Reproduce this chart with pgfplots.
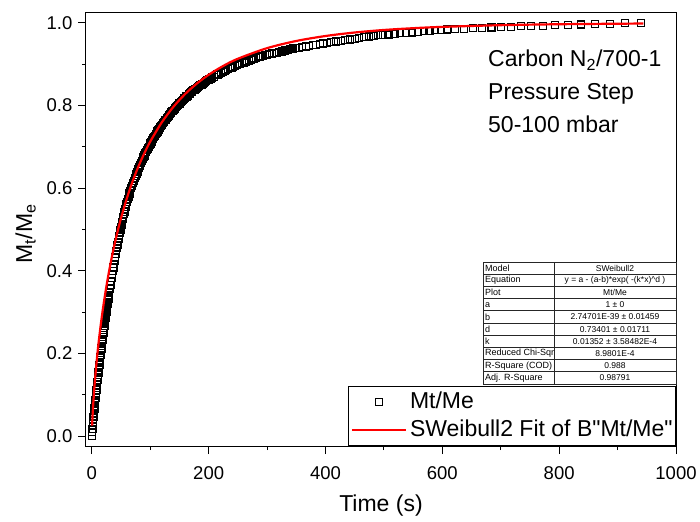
\documentclass[border=0pt]{standalone}
\usepackage{fontspec}
\setmainfont{Liberation Sans}[Ligatures=TeXOff]
\usepackage{pgfplots}
\usepackage{pgfplotstable}
\pgfplotsset{compat=1.18}

\pgfplotstableread{
t D
0 0
0.5 0.009
1 0.017
1.5 0.025
2 0.032
2.5 0.039
3 0.046
3.5 0.053
4 0.060
4.5 0.067
5 0.073
5.5 0.080
6 0.086
6.5 0.092
7 0.099
7.5 0.105
8 0.111
8.5 0.117
9 0.124
9.5 0.130
10 0.136
10.5 0.142
11 0.148
11.5 0.154
12 0.160
12.5 0.166
13 0.172
13.5 0.178
14 0.184
14.5 0.190
15 0.196
15.5 0.201
16 0.207
16.5 0.212
17 0.218
17.5 0.223
18 0.229
18.5 0.234
19 0.240
19.5 0.245
20 0.250
20.5 0.256
21 0.261
21.5 0.266
22 0.271
22.5 0.276
23 0.281
23.5 0.286
24 0.291
24.5 0.296
25 0.301
25.5 0.305
26 0.310
26.5 0.315
27 0.320
27.5 0.324
28 0.329
28.5 0.333
29 0.338
29.5 0.342
30 0.347
31 0.356
32 0.365
33 0.374
34 0.382
35 0.391
36 0.399
37 0.408
38 0.416
39 0.424
40 0.432
41 0.440
42 0.447
43 0.455
44 0.463
45 0.470
46 0.477
47 0.484
48 0.491
49 0.498
50 0.505
51 0.512
52 0.518
53 0.525
54 0.531
55 0.537
56 0.543
57 0.549
58 0.555
59 0.561
60 0.567
61.5 0.574
63 0.580
64.5 0.587
66 0.593
67.5 0.600
69 0.606
70.5 0.612
72 0.618
73.5 0.624
75 0.629
76.5 0.635
78 0.640
79.5 0.645
81 0.650
82.5 0.655
84 0.660
85.5 0.665
87 0.670
88.5 0.675
90 0.679
91.5 0.684
93 0.688
94.5 0.692
96 0.696
97.5 0.700
99 0.704
100.5 0.708
102 0.712
103.5 0.716
105 0.720
106.5 0.724
108 0.727
109.5 0.731
111 0.734
112.5 0.737
114 0.740
115.5 0.744
117 0.747
118.5 0.750
120 0.753
122 0.757
124 0.761
126 0.765
128 0.769
130 0.773
132 0.776
134 0.780
136 0.783
138 0.787
140 0.790
142 0.793
144 0.796
146 0.799
148 0.802
150 0.805
152 0.808
154 0.811
156 0.814
158 0.817
160 0.819
162 0.822
164 0.824
166 0.827
168 0.829
170 0.832
172 0.834
174 0.837
176 0.839
178 0.841
180 0.843
182 0.845
184 0.847
186 0.849
188 0.851
190 0.853
192 0.855
194 0.857
196 0.859
198 0.861
200 0.863
203 0.865
206 0.868
209 0.870
212 0.873
215 0.875
218 0.877
221 0.880
224 0.882
227 0.884
230 0.886
233 0.888
236 0.890
239 0.892
242 0.894
245 0.896
248 0.898
251 0.900
254 0.901
257 0.903
260 0.904
263 0.906
266 0.908
269 0.909
272 0.911
275 0.912
278 0.914
281 0.915
284 0.917
287 0.918
290 0.919
293 0.920
296 0.922
300 0.923
304 0.924
308 0.926
312 0.927
316 0.928
320 0.930
325 0.931
330 0.933
335 0.935
340 0.936
345 0.938
350 0.939
355 0.940
360 0.941
366 0.943
372 0.944
378 0.946
384 0.947
390 0.948
396 0.950
402 0.951
410 0.953
418 0.955
426 0.957
434 0.959
442 0.960
450 0.962
458 0.964
466 0.965
474 0.967
482 0.968
490 0.970
498 0.971
508 0.972
518 0.974
528 0.975
538 0.976
548 0.977
558 0.978
568 0.980
578 0.981
588 0.982
598 0.983
608 0.984
622 0.985
637 0.986
652 0.987
668 0.988
684 0.989
700 0.990
717 0.991
734 0.992
752 0.992
772 0.993
793 0.994
815 0.995
838 0.996
862 0.997
887 0.998
913 0.999
940 1.000
}\datatable

\pgfplotstableread{
t F
0.5 0.0252
1 0.0416
1.5 0.0556
2 0.0682
3 0.0907
4 0.1109
5 0.1293
6 0.1464
8 0.1775
10 0.2057
12 0.2314
15 0.2666
18 0.2984
20 0.3181
25 0.3631
30 0.4028
35 0.4386
40 0.4710
45 0.5006
50 0.5277
60 0.5758
70 0.6173
80 0.6533
90 0.6849
100 0.7129
120 0.7598
140 0.7975
160 0.8283
180 0.8535
200 0.8745
225 0.8959
250 0.9133
300 0.9389
350 0.9563
400 0.9683
450 0.9768
500 0.9829
550 0.9872
600 0.9904
700 0.9945
800 0.9968
944 0.9985
}\fittable

\begin{document}
\begin{tikzpicture}[x=1pt,y=1pt]
\useasboundingbox (-86,-75) rectangle (614,446);
\begin{axis}[
  at={(0,0)}, anchor=south west,
  width=590pt, height=433pt, scale only axis,
  xmin=-10, xmax=1000, ymin=-0.024, ymax=1.024,
  axis line style={black, line width=1pt},
  tick align=outside, tick pos=left,
  major tick length=8pt, minor tick length=4pt,
  every tick/.style={black, line width=1pt},
  xtick={0,200,400,600,800,1000}, minor x tick num=1,
  ytick={0,0.2,0.4,0.6,0.8,1}, minor y tick num=1,
  yticklabel style={/pgf/number format/fixed, /pgf/number format/fixed zerofill, /pgf/number format/precision=1},
  /pgf/number format/assume math mode=true,
  /pgf/number format/1000 sep={},
  tick label style={font=\fontsize{18.5}{18.5}\selectfont},
  xticklabel style={anchor=north, inner sep=0pt, yshift=-12pt},
  yticklabel style={anchor=east, inner sep=0pt, xshift=-5.5pt},
  every axis x label/.style={at={(axis description cs:0.5,-0.1517)}, anchor=base, font=\fontsize{23}{23}\selectfont},
  every axis y label/.style={at={(axis description cs:-0.0915,0.49)}, rotate=90, anchor=base, font=\fontsize{23}{23}\selectfont},
  xlabel={Time (s)},
  ylabel={M\textsubscript{t}/M\textsubscript{e}},
  legend style={at={(1,0)}, anchor=south east, draw=black, line width=0.8pt,
    inner sep=2pt, column sep=2pt, row sep=1pt,
    font=\fontsize{23}{23}\selectfont,
    nodes={inner sep=1pt, text height=19pt, text depth=6pt}},
  legend cell align=left,
  legend image code/.code={\draw[mark repeat=2,mark phase=2,#1] plot coordinates {(0pt,0pt) (27pt,0pt) (54pt,0pt)};},
]
\addplot[only marks, mark=square, mark size=3.5pt, mark options={line width=1.2pt, black}] table[x=t,y=D] {\datatable};
\addlegendentry{Mt/Me}
\addlegendimage{red, line width=2.2pt}
\addlegendentry{SWeibull2 Fit of B"Mt/Me"}
\end{axis}
% fit curve in an overlaid axis so that it lies on top of the markers
\begin{axis}[
  at={(0,0)}, anchor=south west,
  width=590pt, height=433pt, scale only axis,
  xmin=-10, xmax=1000, ymin=-0.024, ymax=1.024,
  hide axis,
]
\addplot[red, line width=2.2pt, smooth] table[x=t,y=F] {\fittable};
\end{axis}

% annotation
\node[anchor=base west, font=\fontsize{23}{23}\selectfont, inner sep=0pt] at (402,379) {Carbon N\textsubscript{2}/700-1};
\node[anchor=base west, font=\fontsize{23}{23}\selectfont, inner sep=0pt] at (402,346) {Pressure Step};
\node[anchor=base west, font=\fontsize{23}{23}\selectfont, inner sep=0pt] at (402,313) {50-100 mbar};

% fit table
\begin{scope}[every node/.style={font=\fontsize{8.5}{8.5}\selectfont, inner sep=0pt}]
\fill[white] (397,62) rectangle (590,184);
\draw[line width=0.6pt, black!85] (397,62) rectangle (590,184);
\draw[line width=0.6pt, black!85] (468,62) -- (468,184);
\foreach \i in {1,...,9} {\draw[line width=0.6pt, black!85] (397,{184-\i*12.2}) -- (590,{184-\i*12.2});}
\begin{scope}[every node/.append style={font=\fontsize{9}{9}\selectfont, anchor=west}]
\node at (399,177.9) {Model};
\node at (399,165.7) {Equation};
\node at (399,153.5) {Plot};
\node at (399,141.3) {a};
\node at (399,129.1) {b};
\node at (399,116.9) {d};
\node at (399,104.7) {k};
\node at (399,92.5) {Reduced Chi-Sqr};
\node at (399,80.3) {R-Square (COD)};
\node at (399,68.1) {Adj. R-Square};
\end{scope}
\node at (529,177.9) {SWeibull2};
\node at (529,165.7) {y = a - (a-b)*exp( -(k*x)\textasciicircum d )};
\node at (529,153.5) {Mt/Me};
\node at (529,141.3) {1 ± 0};
\node at (529,129.1) {2.74701E-39 ± 0.01459};
\node at (529,116.9) {0.73401 ± 0.01711};
\node at (529,104.7) {0.01352 ± 3.58482E-4};
\node at (529,92.5) {8.9801E-4};
\node at (529,80.3) {0.988};
\node at (529,68.1) {0.98791};
\end{scope}
\end{tikzpicture}
\end{document}
